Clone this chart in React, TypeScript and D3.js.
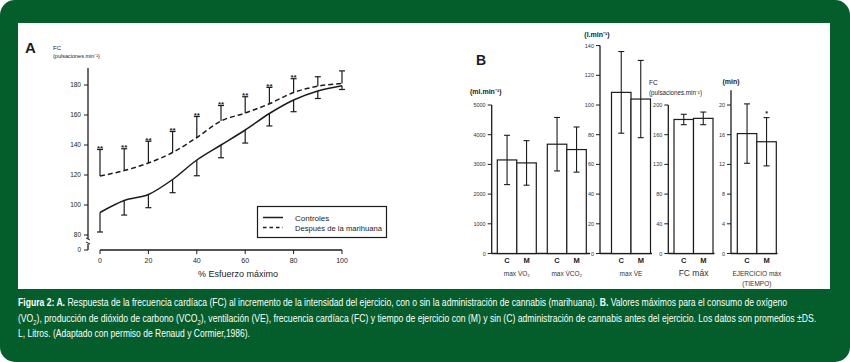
import { useLayoutEffect, useRef, useState } from 'react'
import * as d3 from 'd3'

// Panel A: heart rate vs % max effort
const effort = [0, 10, 20, 30, 40, 50, 60, 70, 80, 90, 100]
const controles = [95, 103, 107, 117, 130, 140, 150, 161, 170, 176, 179.5]
const controlesLow = [82, 93.3, 98.2, 108.2, 119.5, 131.5, 141.3, 152.7, 162.2, 171, 177]
const marihuana = [119.3, 123, 128, 135, 145, 156, 161.3, 167.5, 175, 179.2, 181]
const marihuanaHigh = [137, 137.5, 142.5, 149, 159, 166.3, 172.2, 178.4, 184.2, 185.5, 189.4]
const signif = ['**', '**', '**', '**', '**', '**', '**', '**', '**', '', '']
const yTicksA = [80, 100, 120, 140, 160, 180]
const xTicksA = [0, 20, 40, 60, 80, 100]

// Panel B: maximal values, C = control, M = marihuana
const conditions = ['C', 'M']
const vo2Mean = [3150, 3050]
const vo2Sd = [830, 750]
const vco2Mean = [3680, 3500]
const vco2Sd = [900, 760]
const veMean = [108.5, 104]
const veSd = [27.5, 26]
const fcMean = [180.5, 182]
const fcSd = [7, 8.5]
const tiempoMean = [16.15, 15.05]
const tiempoSd = [4, 3.25]
const tiempoSignif = ['', '*']
const ticksVo2 = [0, 1000, 2000, 3000, 4000, 5000]
const ticksVe = [0, 20, 40, 60, 80, 100, 120, 140]
const ticksFc = [0, 40, 80, 120, 160, 200]
const ticksTiempo = [0, 4, 8, 12, 16, 20]

const GREEN = '#035e2c'
const INK = '#1c1c1c'
const FONT = '"Liberation Sans Narrow", "Arial Narrow", "Liberation Sans", Arial, sans-serif'

function PanelA() {
  const x = d3.scaleLinear().domain([0, 100]).range([100, 342])
  const y = d3.scaleLinear().domain([80, 180]).range([235, 85])
  const line = d3.line<number>().x((_, i) => x(effort[i])).y(d => y(d)).curve(d3.curveMonotoneX)
  const axisX = 88
  const cap = 3
  return (
    <g fontFamily={FONT} fill={INK}>
      <text x={25} y={53} fontSize={15} fontWeight="bold" fontFamily="Arial, sans-serif">A</text>
      <text x={53} y={50} fontSize={6}>FC</text>
      <text x={53} y={58} fontSize={5.5}>(pulsaciones.min⁻¹)</text>

      {/* y axis with break */}
      <line x1={axisX} x2={axisX} y1={68} y2={239} stroke={INK} strokeWidth={1.3} />
      <path d={`M${axisX - 2},${238} L${axisX + 2},${240} M${axisX - 2},${242} L${axisX + 2},${244}`} stroke={INK} strokeWidth={1} />
      <line x1={axisX} x2={axisX} y1={244} y2={250} stroke={INK} strokeWidth={1.3} />
      <line x1={axisX - 4} x2={axisX} y1={250} y2={250} stroke={INK} strokeWidth={1} />
      <text x={axisX - 7} y={252} fontSize={6.5} textAnchor="end">0</text>
      {yTicksA.map(t => (
        <g key={t}>
          <line x1={axisX - 4} x2={axisX} y1={y(t)} y2={y(t)} stroke={INK} strokeWidth={1} />
          <text x={axisX - 7} y={y(t) + 2.2} fontSize={6.5} textAnchor="end">{t}</text>
        </g>
      ))}

      {/* x axis */}
      <line x1={x(0)} x2={x(100)} y1={250} y2={250} stroke={INK} strokeWidth={1.3} />
      {xTicksA.map(t => (
        <g key={t}>
          <line x1={x(t)} x2={x(t)} y1={250} y2={254} stroke={INK} strokeWidth={1} />
          <text x={x(t)} y={263} fontSize={7} textAnchor="middle">{t}</text>
        </g>
      ))}
      <text x={238} y={277} fontSize={9} textAnchor="middle">% Esfuerzo máximo</text>

      {/* error bars */}
      {effort.map((e, i) => (
        <g key={e} stroke={INK} strokeWidth={1.2}>
          <line x1={x(e)} x2={x(e)} y1={y(controles[i])} y2={y(controlesLow[i])} />
          <line x1={x(e) - cap} x2={x(e) + cap} y1={y(controlesLow[i])} y2={y(controlesLow[i])} />
          <line x1={x(e)} x2={x(e)} y1={y(marihuana[i])} y2={y(marihuanaHigh[i])} />
          <line x1={x(e) - cap} x2={x(e) + cap} y1={y(marihuanaHigh[i])} y2={y(marihuanaHigh[i])} />
        </g>
      ))}
      {effort.map((e, i) => signif[i] ? (
        <text key={e} x={x(e)} y={y(marihuanaHigh[i]) + 1.5} fontSize={8} fontWeight="bold" textAnchor="middle" stroke="none">{signif[i]}</text>
      ) : null)}

      <path d={line(controles) ?? ''} fill="none" stroke={INK} strokeWidth={1.5} />
      <path d={line(marihuana) ?? ''} fill="none" stroke={INK} strokeWidth={1.5} strokeDasharray="5,3" />

      {/* legend */}
      <rect x={257.5} y={206.5} width={129} height={31} fill="#fff" stroke={INK} strokeWidth={1.2} />
      <line x1={263} x2={283} y1={217.5} y2={217.5} stroke={INK} strokeWidth={1.5} />
      <line x1={263} x2={283} y1={227.5} y2={227.5} stroke={INK} strokeWidth={1.3} strokeDasharray="3.5,3" />
      <text x={295} y={220.5} fontSize={8}>Controles</text>
      <text x={295} y={230.5} fontSize={8} textLength={87} lengthAdjust="spacingAndGlyphs">Después de la marihuana</text>
    </g>
  )
}

type BarGroup = { x0: number; mean: number[]; sd: number[]; label: string[]; labelSize: number; star?: string[] }
type BarPanel = {
  axisX: number
  y: d3.ScaleLinear<number, number>
  ticks: number[]
  axisTop: number
  baseEnd: number
  groups: BarGroup[]
}

const BAR_W = 39
const Y0 = 253.5

function BarPanelView({ p }: { p: BarPanel }) {
  return (
    <g>
      <line x1={p.axisX} x2={p.axisX} y1={p.axisTop} y2={Y0} stroke={INK} strokeWidth={1.3} />
      <line x1={p.axisX} x2={p.baseEnd} y1={Y0} y2={Y0} stroke={INK} strokeWidth={1.3} />
      {p.ticks.map(t => (
        <g key={t}>
          <line x1={p.axisX - 4} x2={p.axisX} y1={p.y(t)} y2={p.y(t)} stroke={INK} strokeWidth={1} />
          <text x={p.axisX - 6} y={p.y(t) + 2} fontSize={5.5} textAnchor="end" fill="#333">{t}</text>
        </g>
      ))}
      {p.groups.map((g, gi) => {
        const bx = d3.scaleBand<string>().domain(conditions).range([g.x0, g.x0 + BAR_W])
        const cx = g.x0 + BAR_W / 2
        return (
          <g key={gi}>
            {conditions.map((c, i) => {
              const xc = (bx(c) ?? 0) + bx.bandwidth() / 2
              const hi = p.y(g.mean[i] + g.sd[i])
              const lo = p.y(g.mean[i] - g.sd[i])
              return (
                <g key={c}>
                  <rect x={bx(c)} y={p.y(g.mean[i])} width={bx.bandwidth()} height={Y0 - p.y(g.mean[i])}
                    fill="#fff" stroke={INK} strokeWidth={1.2} />
                  <line x1={xc} x2={xc} y1={hi} y2={lo} stroke={INK} strokeWidth={1.1} />
                  <line x1={xc - 3} x2={xc + 3} y1={hi} y2={hi} stroke={INK} strokeWidth={1.1} />
                  <line x1={xc - 3} x2={xc + 3} y1={lo} y2={lo} stroke={INK} strokeWidth={1.1} />
                  {g.star && g.star[i] ? (
                    <text x={xc} y={hi - 2} fontSize={7} textAnchor="middle" fontWeight="bold">{g.star[i]}</text>
                  ) : null}
                  <text x={xc} y={263} fontSize={7.5} fontWeight="bold" textAnchor="middle">{c}</text>
                </g>
              )
            })}
            {g.label.map((l, li) => (
              <text key={li} x={cx} y={276 + li * 9.5} fontSize={g.labelSize} textAnchor="middle" fill="#333">{l}</text>
            ))}
          </g>
        )
      })}
    </g>
  )
}

function PanelB() {
  const yVo2 = d3.scaleLinear().domain([0, 5000]).range([Y0, 105])
  const yVe = d3.scaleLinear().domain([0, 100]).range([Y0, 105])
  const yFc = d3.scaleLinear().domain([0, 200]).range([Y0, 105])
  const yT = d3.scaleLinear().domain([0, 20]).range([Y0, 105])
  const panels: BarPanel[] = [
    {
      axisX: 491.7, y: yVo2, ticks: ticksVo2, axisTop: yVo2(5000), baseEnd: 590,
      groups: [
        { x0: 497.3, mean: vo2Mean, sd: vo2Sd, label: ['max V̇O₂'], labelSize: 6.5 },
        { x0: 547.3, mean: vco2Mean, sd: vco2Sd, label: ['max V̇CO₂'], labelSize: 6.5 },
      ],
    },
    {
      axisX: 600, y: yVe, ticks: ticksVe, axisTop: yVe(140), baseEnd: 652,
      groups: [{ x0: 611.5, mean: veMean, sd: veSd, label: ['max V̇E'], labelSize: 6.5 }],
    },
    {
      axisX: 668.3, y: yFc, ticks: ticksFc, axisTop: yFc(200), baseEnd: 714.5,
      groups: [{ x0: 674, mean: fcMean, sd: fcSd, label: ['FC máx'], labelSize: 8.5 }],
    },
    {
      axisX: 731, y: yT, ticks: ticksTiempo, axisTop: yT(22), baseEnd: 777.5,
      groups: [{ x0: 737.3, mean: tiempoMean, sd: tiempoSd, label: ['EJERCICIO máx', '(TIEMPO)'], labelSize: 6.5, star: tiempoSignif }],
    },
  ]
  return (
    <g fontFamily={FONT} fill={INK}>
      <text x={476} y={65} fontSize={14} fontWeight="bold" fontFamily="Arial, sans-serif">B</text>
      <text x={470} y={94} fontSize={7} fontWeight="bold">(ml.min⁻¹)</text>
      <text x={597} y={37} fontSize={7} fontWeight="bold" textAnchor="middle">(l.min⁻¹)</text>
      <text x={649} y={84.5} fontSize={6.5}>FC</text>
      <text x={649} y={95} fontSize={6.5} textLength={53} lengthAdjust="spacingAndGlyphs">(pulsaciones.min⁻¹)</text>
      <text x={731} y={83.5} fontSize={7} fontWeight="bold" textAnchor="middle">(min)</text>
      {panels.map((p, i) => <BarPanelView key={i} p={p} />)}
    </g>
  )
}

// Caption line squeezed horizontally to a target width (condensed face substitute)
function FitLine({ x, y, width, children }: { x: number; y: number; width: number; children: React.ReactNode }) {
  const ref = useRef<SVGTextElement>(null)
  const [k, setK] = useState(0.8)
  useLayoutEffect(() => {
    const el = ref.current
    if (!el) return
    const w = el.getBBox().width
    if (w > 0) setK(width / w)
  }, [width])
  return (
    <g transform={`translate(${x},${y}) scale(${k},1)`}>
      <text ref={ref} x={0} y={0}>{children}</text>
    </g>
  )
}

function Caption() {
  return (
    <g fontFamily={FONT} fill="#fff" fontSize={10.5}>
      <FitLine x={18} y={306} width={769}>
        <tspan fontWeight="bold">Figura 2: A.</tspan>
        <tspan> Respuesta de la frecuencia cardíaca (FC) al incremento de la intensidad del ejercicio, con o sin la administración de cannabis (marihuana). </tspan>
        <tspan fontWeight="bold">B.</tspan>
        <tspan> Valores máximos para el consumo de oxígeno</tspan>
      </FitLine>
      <FitLine x={18} y={322} width={799}>
        <tspan>(VO</tspan>
        <tspan fontSize={7} dy={2.5}>2</tspan>
        <tspan dy={-2.5}>), producción de dióxido de carbono (VCO</tspan>
        <tspan fontSize={7} dy={2.5}>2</tspan>
        <tspan dy={-2.5}>), ventilación (VE), frecuencia cardíaca (FC) y tiempo de ejercicio con (M) y sin (C) administración de cannabis antes del ejercicio. Los datos son promedios ±DS.</tspan>
      </FitLine>
      <FitLine x={18} y={337} width={232}>
        L, Litros. (Adaptado con permiso de Renaud y Cormier,1986).
      </FitLine>
    </g>
  )
}

export default function App() {
  return (
    <svg width={850} height={362} style={{ position: 'absolute', left: 0, top: 0, display: 'block' }}>
      <rect x={0} y={0} width={850} height={362} fill="#fff" />
      <rect x={0} y={0} width={850} height={362} rx={15} fill={GREEN} />
      <rect x={18} y={23} width={812} height={266} fill="#fff" />
      <PanelA />
      <PanelB />
      <Caption />
    </svg>
  )
}
